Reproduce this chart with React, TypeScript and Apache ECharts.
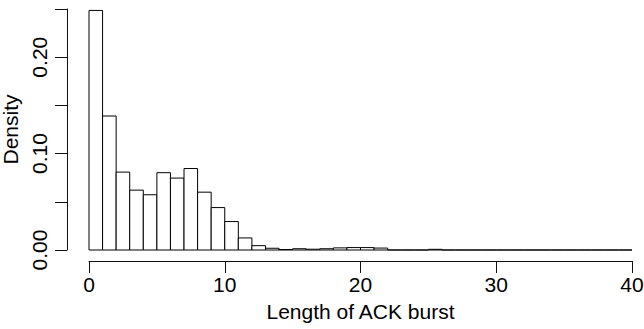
import React, { useEffect, useRef } from "react";
import * as echarts from "echarts";

// Histogram bins (width 1) starting at 0
const binStarts = [
  0, 1, 2, 3, 4, 5, 6, 7, 8, 9, 10, 11, 12, 13, 14, 15, 16, 17, 18, 19,
  20, 21, 22, 23, 24, 25, 26, 27, 28, 29, 30, 31, 32, 33, 34, 35, 36, 37, 38, 39,
];
const densities = [
  0.2485, 0.139, 0.0808, 0.0621, 0.0573, 0.0802, 0.0746, 0.0845, 0.06, 0.044,
  0.0295, 0.0125, 0.0045, 0.0018, 0.0005, 0.0013, 0.0008, 0.0013, 0.0022, 0.0025,
  0.0025, 0.002, 0, 0, 0, 0.0007, 0, 0, 0, 0,
  0, 0, 0, 0, 0, 0, 0, 0, 0, 0,
];
const binWidth = 1;
const xTicks = [0, 10, 20, 30, 40];
const yLabeledTicks = [0, 0.1, 0.2];
const xTitle = "Length of ACK burst";
const yTitle = "Density";

const FONT = "'Liberation Sans', Arial, Helvetica, sans-serif";
const AX = "#111";

export default function App() {
  const ref = useRef<HTMLDivElement>(null);
  useEffect(() => {
    if (!ref.current) return;
    const chart = echarts.init(ref.current, undefined, { renderer: "svg" });
    const data = binStarts.map((s, i) => [s, s + binWidth, densities[i]]);
    chart.setOption({
      animation: false,
      backgroundColor: "#fff",
      grid: {
        left: 89,
        right: 12,
        top: 9,
        bottom: 79,
        containLabel: false,
        outerBoundsMode: "none",
      },
      xAxis: {
        type: "value",
        min: xTicks[0],
        max: xTicks[xTicks.length - 1],
        interval: 10,
        offset: 11,
        splitLine: { show: false },
        axisLine: { show: true, onZero: false, lineStyle: { color: AX, width: 1 } },
        axisTick: { show: true, inside: false, length: 12, lineStyle: { color: AX, width: 1 } },
        axisLabel: {
          margin: 13,
          color: "#000",
          fontFamily: FONT,
          fontSize: 21,
          showMinLabel: true,
          showMaxLabel: true,
        },
        name: xTitle,
        nameLocation: "middle",
        nameGap: 40,
        nameTextStyle: { color: "#000", fontFamily: FONT, fontSize: 21 },
      },
      yAxis: {
        type: "value",
        min: 0,
        max: 0.25,
        interval: 0.05,
        offset: 22,
        splitLine: { show: false },
        axisLine: { show: true, onZero: false, lineStyle: { color: AX, width: 1 } },
        axisTick: { show: true, inside: false, length: 12, lineStyle: { color: AX, width: 1 } },
        axisLabel: {
          rotate: 90,
          margin: 17,
          color: "#000",
          fontFamily: FONT,
          fontSize: 21,
          formatter: (v: number) =>
            yLabeledTicks.some((t) => Math.abs(t - v) < 1e-9) ? v.toFixed(2) : "",
        },
        name: yTitle,
        nameLocation: "middle",
        nameGap: 43,
        nameRotate: 90,
        nameTextStyle: { color: "#000", fontFamily: FONT, fontSize: 21 },
      },
      series: [
        {
          type: "custom",
          data,
          encode: { x: [0, 1], y: 2 },
          renderItem: (params: any, api: any) => {
            const p0 = api.coord([api.value(0), api.value(2)]);
            const p1 = api.coord([api.value(1), 0]);
            return {
              type: "rect",
              shape: { x: p0[0], y: p0[1], width: p1[0] - p0[0], height: p1[1] - p0[1] },
              style: { fill: "#fff", stroke: "#000", lineWidth: 1 },
            };
          },
        },
      ],
    });
    return () => chart.dispose();
  }, []);
  return (
    <div
      ref={ref}
      style={{ position: "fixed", left: 0, top: 0, width: 644, height: 329, background: "#fff" }}
    />
  );
}
